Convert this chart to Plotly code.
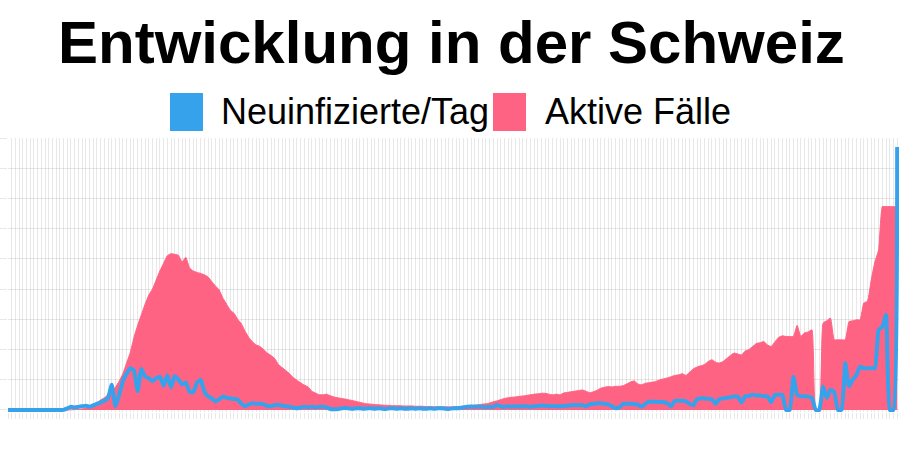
import plotly.graph_objects as go

# Werte in Tausend
aktive_faelle = [
    0, 0, 0, 0, 0, 0, 0, 0, 0, 0,
    0, 0, 0, 0, 0, 0, 0, 0, 0.01, 0.02,
    0.03, 0.06, 0.1, 0.15, 0.22, 0.33, 0.4, 0.5, 0.6, 0.75,
    0.95, 1.2, 1.55, 1.9, 2.4, 2.8, 3.15, 3.5, 3.8, 4.0,
    4.3, 4.6, 4.85, 5.1, 5.17, 5.15, 5.12, 4.9, 5.05, 4.7,
    4.6, 4.55, 4.52, 4.47, 4.4, 4.25, 4.1, 3.97, 3.7, 3.5,
    3.3, 3.2, 3.0, 2.85, 2.6, 2.4, 2.25, 2.15, 2.1, 2.0,
    1.88, 1.8, 1.7, 1.5, 1.4, 1.3, 1.2, 1.07, 0.98, 0.9,
    0.82, 0.76, 0.62, 0.56, 0.5, 0.5, 0.52, 0.47, 0.43, 0.4,
    0.38, 0.36, 0.33, 0.31, 0.28, 0.25, 0.22, 0.2, 0.19, 0.18,
    0.17, 0.16, 0.15, 0.15, 0.14, 0.14, 0.14, 0.13, 0.13, 0.13,
    0.12, 0.12, 0.12, 0.11, 0.11, 0.1, 0.1, 0.1, 0.1, 0.1,
    0.1, 0.11, 0.11, 0.12, 0.13, 0.15, 0.16, 0.17, 0.19, 0.2,
    0.23, 0.27, 0.3, 0.34, 0.38, 0.4, 0.42, 0.43, 0.45, 0.46,
    0.48, 0.5, 0.52, 0.53, 0.55, 0.55, 0.52, 0.5, 0.52, 0.5,
    0.56, 0.58, 0.6, 0.62, 0.64, 0.66, 0.62, 0.57, 0.6, 0.65,
    0.72, 0.75, 0.77, 0.76, 0.78, 0.78, 0.8, 0.86, 0.92, 0.96,
    0.86, 0.83, 0.88, 0.9, 0.92, 0.95, 1.0, 1.03, 1.06, 1.1,
    1.14, 1.16, 1.2, 1.14, 1.25, 1.36, 1.42, 1.46, 1.5, 1.6,
    1.66, 1.58, 1.55, 1.6, 1.7, 1.8, 1.88, 1.85, 1.82, 1.95,
    2.0, 2.1, 2.2, 2.22, 2.26, 2.15, 2.1, 2.25, 2.4, 2.45,
    2.43, 2.43, 2.43, 2.8, 2.43, 2.55, 2.58, 2.65, 0, 0,
    2.87, 2.95, 3.04, 2.32, 2.32, 2.32, 2.32, 2.92, 2.95, 2.98,
    2.98, 3.54, 3.6, 4.3, 4.9, 5.3, 6.73, 6.73, 6.73, 6.73,
    6.73,
]

neuinfizierte = [
    0, 0, 0, 0, 0, 0, 0, 0, 0, 0,
    0, 0, 0, 0, 0, 0, 0.05, 0.1, 0.08, 0.1,
    0.12, 0.14, 0.1, 0.15, 0.2, 0.25, 0.3, 0.4, 0.83, 0.12,
    0.5, 0.95, 1.2, 1.38, 1.3, 0.62, 1.35, 1.1, 1.05, 0.95,
    1.05, 1.1, 0.8, 1.15, 0.75, 1.12, 1.0, 0.85, 0.9, 0.6,
    0.58, 0.9, 1.0, 0.6, 0.45, 0.38, 0.28, 0.35, 0.44, 0.4,
    0.38, 0.36, 0.34, 0.2, 0.12, 0.18, 0.22, 0.2, 0.2, 0.18,
    0.13, 0.12, 0.16, 0.16, 0.14, 0.12, 0.1, 0.08, 0.05, 0.08,
    0.1, 0.09, 0.1, 0.08, 0.1, 0.1, 0.08, 0.03, 0.02, 0.03,
    0.05, 0.06, 0.05, 0.04, 0.05, 0.05, 0.04, 0.05, 0.05, 0.04,
    0.05, 0.04, 0.03, 0.05, 0.05, 0.04, 0.05, 0.04, 0.04, 0.05,
    0.04, 0.05, 0.04, 0.04, 0.05, 0.04, 0.05, 0.05, 0.04, 0.03,
    0.05, 0.05, 0.06, 0.08, 0.1, 0.11, 0.1, 0.11, 0.1, 0.09,
    0.1, 0.1, 0.16, 0.12, 0.1, 0.12, 0.11, 0.12, 0.11, 0.12,
    0.12, 0.1, 0.12, 0.13, 0.14, 0.14, 0.12, 0.13, 0.12, 0.12,
    0.13, 0.14, 0.15, 0.16, 0.15, 0.16, 0.12, 0.18, 0.2, 0.22,
    0.22, 0.2, 0.18, 0.12, 0.06, 0.08, 0.2, 0.2, 0.2, 0.19,
    0.18, 0.1, 0.2, 0.27, 0.27, 0.27, 0.26, 0.25, 0.22, 0.12,
    0.3, 0.3, 0.3, 0.28, 0.2, 0.15, 0.36, 0.38, 0.38, 0.37,
    0.35, 0.2, 0.36, 0.38, 0.4, 0.42, 0.44, 0.44, 0.25, 0.45,
    0.46, 0.5, 0.48, 0.48, 0.45, 0.45, 0.25, 0.5, 0.5, 0.5,
    0, 0, 1.1, 0.5, 0.45, 0.45, 0.44, 0.4, 0, 0,
    0.77, 0.4, 0.66, 0.6, 0, 0, 1.55, 0.77, 1.0, 1.15,
    1.43, 1.38, 1.38, 1.38, 1.38, 2.65, 2.75, 3.15, 0, 0,
    8.7,
]

tage = list(range(len(aktive_faelle)))

titel = "Entwicklung in der Schweiz"
legende = ["Neuinfizierte/Tag", "Aktive Fälle"]
farben = ["rgb(54,162,235)", "rgb(255,99,132)"]

W, H = 900, 450
ML, MR, MT, MB = 8, 1, 138, 38
PW, PH = W - ML - MR, H - MT - MB


def px(xp):
    return (xp - ML) / PW


def py(yp):
    return (H - MB - yp) / PH


fig = go.Figure()
fig.add_trace(go.Scatter(
    x=tage, y=aktive_faelle, mode="lines", fill="tozeroy",
    line=dict(color=farben[1], width=1, shape="spline", smoothing=0.4),
    fillcolor=farben[1], name=legende[1], showlegend=False,
))
fig.add_trace(go.Scatter(
    x=tage, y=neuinfizierte, mode="lines",
    line=dict(color=farben[0], width=4, shape="spline", smoothing=0.4),
    name=legende[0], showlegend=False,
))

grid = "rgba(0,0,0,0.09)"
fig.update_xaxes(
    range=[0, 240.5], tickmode="linear", tick0=0, dtick=1,
    showgrid=True, gridcolor=grid, gridwidth=1,
    ticks="outside", ticklen=6, tickcolor=grid, showticklabels=False,
    zeroline=False, showline=False,
)
fig.update_yaxes(
    range=[-0.07, 9], tickmode="linear", tick0=0, dtick=1,
    showgrid=True, gridcolor=grid, gridwidth=1,
    ticks="outside", ticklen=8, tickcolor=grid, showticklabels=False,
    zeroline=False, showline=False,
)

shapes = []
annotations = []
# Titel
annotations.append(dict(
    text=titel, xref="paper", yref="paper", x=px(451), y=py(43),
    xanchor="center", yanchor="middle", showarrow=False,
    font=dict(family="Liberation Sans", size=60, color="black", weight="bold"),
))
# Legende
boxes = [(170, 203), (493, 526)]
text_x = [219, 543]
for i in range(2):
    shapes.append(dict(
        type="rect", xref="paper", yref="paper",
        x0=px(boxes[i][0]), x1=px(boxes[i][1]), y0=py(131), y1=py(93),
        fillcolor=farben[i], line=dict(width=0), layer="above",
    ))
    annotations.append(dict(
        text=legende[i], xref="paper", yref="paper", x=px(text_x[i]), y=py(111.5),
        xanchor="left", yanchor="middle", showarrow=False,
        font=dict(family="Liberation Sans", size=36, color="black"),
    ))

fig.update_layout(
    width=W, height=H,
    margin=dict(l=ML, r=MR, t=MT, b=MB, pad=0),
    plot_bgcolor="white", paper_bgcolor="white",
    shapes=shapes, annotations=annotations,
    showlegend=False,
)

fig.write_html("out.html", config={"displayModeBar": False})
